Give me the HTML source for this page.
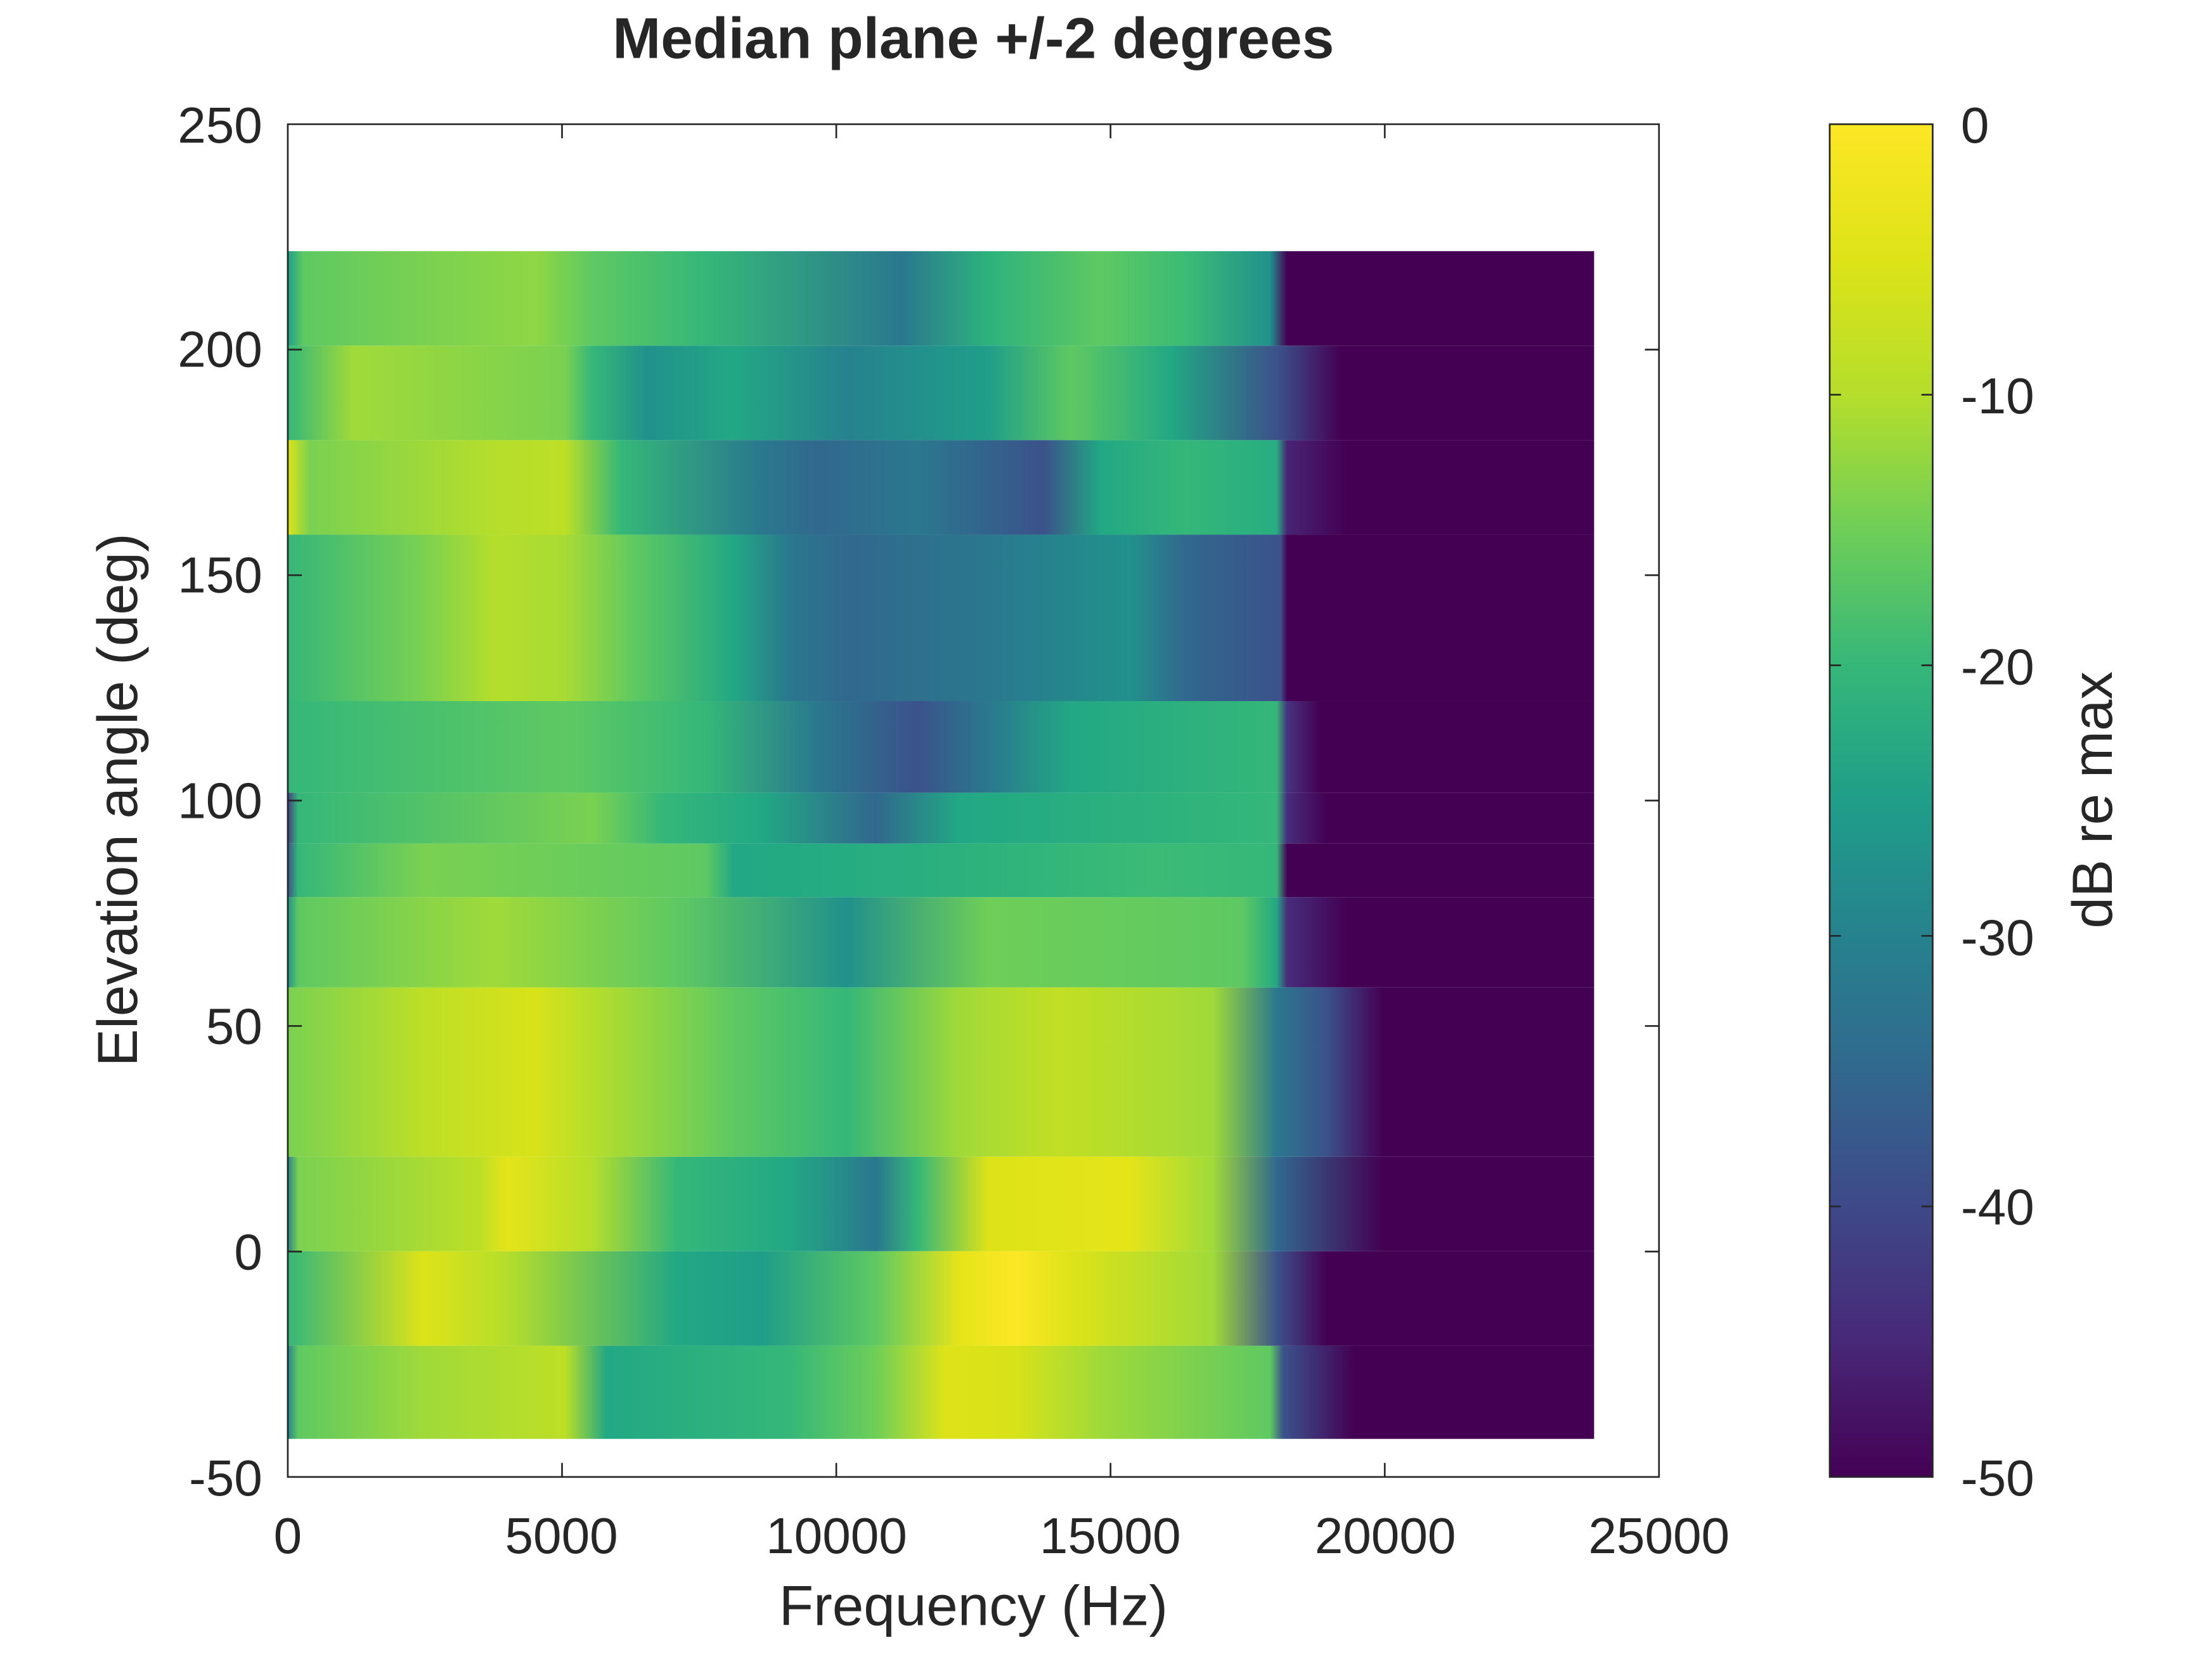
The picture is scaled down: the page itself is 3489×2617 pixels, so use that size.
<!DOCTYPE html>
<html><head><meta charset="utf-8"><style>
html,body{margin:0;padding:0;background:#fff}
svg{display:block}
text{font-family:"Liberation Sans",sans-serif;fill:#262626}
</style></head><body>
<svg width="3489" height="2617" viewBox="0 0 1568 1176" xmlns="http://www.w3.org/2000/svg">
<defs>
<linearGradient id="gA" gradientUnits="userSpaceOnUse" x1="204" x2="1130" y1="0" y2="0">
<stop offset="0" stop-color="#1f9e89"/><stop offset="0.012" stop-color="#5ec962"/><stop offset="0.104" stop-color="#7ad151"/><stop offset="0.19" stop-color="#8fd744"/><stop offset="0.233" stop-color="#5ec962"/><stop offset="0.32" stop-color="#35b779"/><stop offset="0.47" stop-color="#2a788e"/><stop offset="0.536" stop-color="#2db27d"/><stop offset="0.622" stop-color="#5ec962"/><stop offset="0.687" stop-color="#3bbb75"/><stop offset="0.752" stop-color="#21918c"/><stop offset="0.765" stop-color="#440154"/><stop offset="1" stop-color="#440154"/></linearGradient>
<linearGradient id="gB" gradientUnits="userSpaceOnUse" x1="204" x2="1130" y1="0" y2="0">
<stop offset="0" stop-color="#35b779"/><stop offset="0.05" stop-color="#a0da39"/><stop offset="0.212" stop-color="#7ad151"/><stop offset="0.233" stop-color="#35b779"/><stop offset="0.276" stop-color="#21918c"/><stop offset="0.341" stop-color="#22a884"/><stop offset="0.428" stop-color="#26828e"/><stop offset="0.536" stop-color="#1f9e89"/><stop offset="0.6" stop-color="#5ec962"/><stop offset="0.676" stop-color="#22a884"/><stop offset="0.757" stop-color="#3b528b"/><stop offset="0.806" stop-color="#440154"/><stop offset="1" stop-color="#440154"/></linearGradient>
<linearGradient id="gC" gradientUnits="userSpaceOnUse" x1="204" x2="1130" y1="0" y2="0">
<stop offset="0" stop-color="#dde318"/><stop offset="0.017" stop-color="#7ad151"/><stop offset="0.158" stop-color="#b5de2b"/><stop offset="0.212" stop-color="#bddf26"/><stop offset="0.255" stop-color="#35b779"/><stop offset="0.363" stop-color="#2a788e"/><stop offset="0.406" stop-color="#31688e"/><stop offset="0.482" stop-color="#2a788e"/><stop offset="0.579" stop-color="#3b528b"/><stop offset="0.622" stop-color="#22a884"/><stop offset="0.687" stop-color="#35b779"/><stop offset="0.757" stop-color="#27ad81"/><stop offset="0.765" stop-color="#482475"/><stop offset="0.81" stop-color="#440154"/><stop offset="1" stop-color="#440154"/></linearGradient>
<linearGradient id="gD" gradientUnits="userSpaceOnUse" x1="204" x2="1130" y1="0" y2="0">
<stop offset="0" stop-color="#35b779"/><stop offset="0.104" stop-color="#7ad151"/><stop offset="0.158" stop-color="#b5de2b"/><stop offset="0.212" stop-color="#a8db34"/><stop offset="0.266" stop-color="#5ec962"/><stop offset="0.341" stop-color="#22a884"/><stop offset="0.384" stop-color="#2a788e"/><stop offset="0.428" stop-color="#31688e"/><stop offset="0.536" stop-color="#2a788e"/><stop offset="0.644" stop-color="#21918c"/><stop offset="0.687" stop-color="#31688e"/><stop offset="0.76" stop-color="#3b528b"/><stop offset="0.765" stop-color="#440154"/><stop offset="1" stop-color="#440154"/></linearGradient>
<linearGradient id="gE" gradientUnits="userSpaceOnUse" x1="204" x2="1130" y1="0" y2="0">
<stop offset="0" stop-color="#35b779"/><stop offset="0.212" stop-color="#5ec962"/><stop offset="0.32" stop-color="#35b779"/><stop offset="0.406" stop-color="#2a788e"/><stop offset="0.482" stop-color="#3b528b"/><stop offset="0.536" stop-color="#2a788e"/><stop offset="0.6" stop-color="#22a884"/><stop offset="0.757" stop-color="#35b779"/><stop offset="0.765" stop-color="#46337f"/><stop offset="0.79" stop-color="#440154"/><stop offset="1" stop-color="#440154"/></linearGradient>
<linearGradient id="gF" gradientUnits="userSpaceOnUse" x1="204" x2="1130" y1="0" y2="0">
<stop offset="0" stop-color="#433e85"/><stop offset="0.008" stop-color="#35b779"/><stop offset="0.233" stop-color="#7ad151"/><stop offset="0.287" stop-color="#35b779"/><stop offset="0.363" stop-color="#22a884"/><stop offset="0.45" stop-color="#31688e"/><stop offset="0.514" stop-color="#22a884"/><stop offset="0.665" stop-color="#2db27d"/><stop offset="0.757" stop-color="#35b779"/><stop offset="0.765" stop-color="#472d7b"/><stop offset="0.795" stop-color="#440154"/><stop offset="1" stop-color="#440154"/></linearGradient>
<linearGradient id="gG" gradientUnits="userSpaceOnUse" x1="204" x2="1130" y1="0" y2="0">
<stop offset="0" stop-color="#3b528b"/><stop offset="0.008" stop-color="#35b779"/><stop offset="0.104" stop-color="#7ad151"/><stop offset="0.32" stop-color="#5ec962"/><stop offset="0.341" stop-color="#22a884"/><stop offset="0.482" stop-color="#29af7f"/><stop offset="0.665" stop-color="#3bbb75"/><stop offset="0.757" stop-color="#35b779"/><stop offset="0.765" stop-color="#440154"/><stop offset="1" stop-color="#440154"/></linearGradient>
<linearGradient id="gH" gradientUnits="userSpaceOnUse" x1="204" x2="1130" y1="0" y2="0">
<stop offset="0" stop-color="#21918c"/><stop offset="0.008" stop-color="#5ec962"/><stop offset="0.158" stop-color="#a0da39"/><stop offset="0.298" stop-color="#5ec962"/><stop offset="0.428" stop-color="#21918c"/><stop offset="0.536" stop-color="#6ece58"/><stop offset="0.73" stop-color="#5ec962"/><stop offset="0.757" stop-color="#22a884"/><stop offset="0.765" stop-color="#472d7b"/><stop offset="0.81" stop-color="#440154"/><stop offset="1" stop-color="#440154"/></linearGradient>
<linearGradient id="gI" gradientUnits="userSpaceOnUse" x1="204" x2="1130" y1="0" y2="0">
<stop offset="0" stop-color="#7ad151"/><stop offset="0.104" stop-color="#bddf26"/><stop offset="0.19" stop-color="#d8e219"/><stop offset="0.233" stop-color="#b5de2b"/><stop offset="0.341" stop-color="#5ec962"/><stop offset="0.428" stop-color="#35b779"/><stop offset="0.514" stop-color="#a0da39"/><stop offset="0.59" stop-color="#c2df23"/><stop offset="0.708" stop-color="#a0da39"/><stop offset="0.757" stop-color="#2a788e"/><stop offset="0.795" stop-color="#3b528b"/><stop offset="0.838" stop-color="#440154"/><stop offset="1" stop-color="#440154"/></linearGradient>
<linearGradient id="gJ" gradientUnits="userSpaceOnUse" x1="204" x2="1130" y1="0" y2="0">
<stop offset="0" stop-color="#26828e"/><stop offset="0.008" stop-color="#7ad151"/><stop offset="0.147" stop-color="#bddf26"/><stop offset="0.168" stop-color="#e5e419"/><stop offset="0.233" stop-color="#b5de2b"/><stop offset="0.298" stop-color="#35b779"/><stop offset="0.384" stop-color="#22a884"/><stop offset="0.45" stop-color="#2a788e"/><stop offset="0.482" stop-color="#35b779"/><stop offset="0.536" stop-color="#dde318"/><stop offset="0.644" stop-color="#e5e419"/><stop offset="0.708" stop-color="#a0da39"/><stop offset="0.757" stop-color="#31688e"/><stop offset="0.838" stop-color="#440154"/><stop offset="1" stop-color="#440154"/></linearGradient>
<linearGradient id="gK" gradientUnits="userSpaceOnUse" x1="204" x2="1130" y1="0" y2="0">
<stop offset="0" stop-color="#35b779"/><stop offset="0.104" stop-color="#dde318"/><stop offset="0.168" stop-color="#b5de2b"/><stop offset="0.298" stop-color="#22a884"/><stop offset="0.363" stop-color="#1f9e89"/><stop offset="0.45" stop-color="#5ec962"/><stop offset="0.514" stop-color="#e5e419"/><stop offset="0.557" stop-color="#fde725"/><stop offset="0.6" stop-color="#dde318"/><stop offset="0.708" stop-color="#a0da39"/><stop offset="0.757" stop-color="#3b528b"/><stop offset="0.795" stop-color="#440154"/><stop offset="1" stop-color="#440154"/></linearGradient>
<linearGradient id="gL" gradientUnits="userSpaceOnUse" x1="204" x2="1130" y1="0" y2="0">
<stop offset="0" stop-color="#26828e"/><stop offset="0.008" stop-color="#5ec962"/><stop offset="0.104" stop-color="#a0da39"/><stop offset="0.212" stop-color="#bddf26"/><stop offset="0.244" stop-color="#22a884"/><stop offset="0.384" stop-color="#35b779"/><stop offset="0.45" stop-color="#6ece58"/><stop offset="0.503" stop-color="#dde318"/><stop offset="0.557" stop-color="#d8e219"/><stop offset="0.622" stop-color="#a0da39"/><stop offset="0.752" stop-color="#5ec962"/><stop offset="0.762" stop-color="#3b528b"/><stop offset="0.816" stop-color="#440154"/><stop offset="1" stop-color="#440154"/></linearGradient>
<linearGradient id="cb" x1="0" y1="1" x2="0" y2="0">
<stop offset="0" stop-color="#440154"/><stop offset="0.1" stop-color="#482878"/><stop offset="0.2" stop-color="#3e4989"/><stop offset="0.3" stop-color="#31688e"/><stop offset="0.4" stop-color="#26828e"/><stop offset="0.5" stop-color="#1f9e89"/><stop offset="0.6" stop-color="#35b779"/><stop offset="0.7" stop-color="#6ece58"/><stop offset="0.8" stop-color="#b5de2b"/><stop offset="0.9" stop-color="#dde318"/><stop offset="1" stop-color="#fde725"/></linearGradient>
</defs>
<rect x="204" y="178" width="926" height="67" fill="url(#gA)"/>
<rect x="204" y="245" width="926" height="67" fill="url(#gB)"/>
<rect x="204" y="312" width="926" height="67" fill="url(#gC)"/>
<rect x="204" y="379" width="926" height="118" fill="url(#gD)"/>
<rect x="204" y="497" width="926" height="65" fill="url(#gE)"/>
<rect x="204" y="562" width="926" height="36" fill="url(#gF)"/>
<rect x="204" y="598" width="926" height="38" fill="url(#gG)"/>
<rect x="204" y="636" width="926" height="64" fill="url(#gH)"/>
<rect x="204" y="700" width="926" height="120" fill="url(#gI)"/>
<rect x="204" y="820" width="926" height="67" fill="url(#gJ)"/>
<rect x="204" y="887" width="926" height="67" fill="url(#gK)"/>
<rect x="204" y="954" width="926" height="66" fill="url(#gL)"/>
<g fill="none" stroke="#262626" stroke-width="1.2">
<rect x="204" y="88" width="972" height="959"/>
<path d="M398.4 1047v-10M592.8 1047v-10M787.2 1047v-10M981.6 1047v-10M398.4 88v10M592.8 88v10M787.2 88v10M981.6 88v10
M204 887.2h10M204 727.3h10M204 567.5h10M204 407.7h10M204 247.8h10M1176 887.2h-10M1176 727.3h-10M1176 567.5h-10M1176 407.7h-10M1176 247.8h-10"/>
</g>
<rect x="1297" y="88" width="73" height="959" fill="url(#cb)"/>
<g fill="none" stroke="#262626" stroke-width="1.2">
<rect x="1297" y="88" width="73" height="959"/>
<path d="M1297 279.8h8M1297 471.6h8M1297 663.4h8M1297 855.2h8M1370 279.8h-8M1370 471.6h-8M1370 663.4h-8M1370 855.2h-8"/>
</g>
<text x="690" y="41" font-size="41" font-weight="bold" text-anchor="middle" fill="#000">Median plane +/-2 degrees</text>
<g font-size="36" text-anchor="end">
<text x="186" y="1060">-50</text><text x="186" y="900">0</text><text x="186" y="740">50</text><text x="186" y="580">100</text><text x="186" y="420">150</text><text x="186" y="260">200</text><text x="186" y="101">250</text>
</g>
<g font-size="36" text-anchor="middle">
<text x="204" y="1101">0</text><text x="398" y="1101">5000</text><text x="593" y="1101">10000</text><text x="787" y="1101">15000</text><text x="982" y="1101">20000</text><text x="1176" y="1101">25000</text>
</g>
<g font-size="36">
<text x="1390" y="101">0</text><text x="1390" y="293">-10</text><text x="1390" y="485">-20</text><text x="1390" y="677">-30</text><text x="1390" y="868">-40</text><text x="1390" y="1060">-50</text>
</g>
<text x="690" y="1152" font-size="40" text-anchor="middle">Frequency (Hz)</text>
<text transform="translate(97,567) rotate(-90)" font-size="40" text-anchor="middle">Elevation angle (deg)</text>
<text transform="translate(1497,567) rotate(-90)" font-size="40" text-anchor="middle">dB re max</text>
</svg>
</body></html>
